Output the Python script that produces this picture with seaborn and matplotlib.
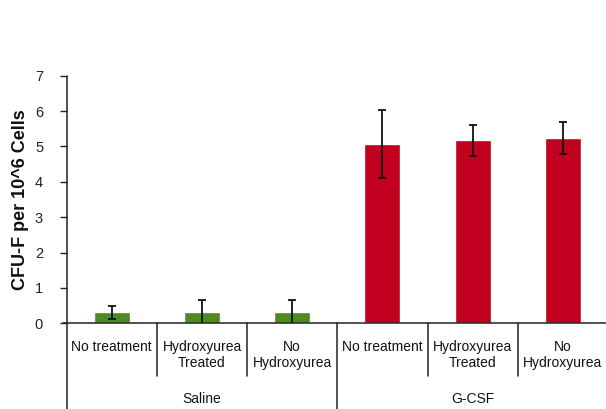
import matplotlib
matplotlib.use("Agg")
import matplotlib.pyplot as plt
import matplotlib.transforms as mtransforms
from matplotlib.lines import Line2D
import seaborn as sns
import pandas as pd

# Colony-forming units (fibroblast) per 10^6 cells, mean and error
groups = ["Saline", "Saline", "Saline", "G-CSF", "G-CSF", "G-CSF"]
treatments = ["No treatment", "Hydroxyurea\nTreated", "No\nHydroxyurea",
              "No treatment", "Hydroxyurea\nTreated", "No\nHydroxyurea"]
cfu_mean = [0.31, 0.31, 0.31, 5.07, 5.17, 5.24]
cfu_err = [0.18, 0.36, 0.36, 0.95, 0.45, 0.46]
group_names = ["Saline", "G-CSF"]
group_colors = {"Saline": "#4E8A22", "G-CSF": "#C0001E"}
y_ticks = [0, 1, 2, 3, 4, 5, 6, 7]

df = pd.DataFrame({
    "bar": [f"b{i}" for i in range(len(cfu_mean))],
    "group": groups,
    "treatment": treatments,
    "cfu": cfu_mean,
})

sns.set_style("white")
plt.rcParams["font.family"] = ["Liberation Sans", "DejaVu Sans"]

W, H = 606, 409
fig = plt.figure(figsize=(W / 100, H / 100), dpi=100)
left_px, right_px, bottom_px, top_px = 66.7, 606, 323.3, 75.7
ax = fig.add_axes([left_px / W, (H - bottom_px) / H,
                   (right_px - left_px) / W, (bottom_px - top_px) / H])

sns.barplot(data=df, x="bar", y="cfu", hue="group", palette=group_colors,
            dodge=False, width=0.4, errorbar=None, legend=False, ax=ax,
            saturation=1)
xs = list(range(len(cfu_mean)))
ax.errorbar(xs, cfu_mean, yerr=cfu_err, fmt="none", ecolor="#111111",
            elinewidth=1.3, capsize=3, capthick=1.3, zorder=5)

cat_w = 90.2
ax.set_xlim(-0.5, -0.5 + (right_px - left_px) / cat_w)
ax.set_ylim(0, 7)
ax.set_yticks(y_ticks)
ax.tick_params(axis="y", length=5, width=1, color="#222222", labelsize=10.5,
               pad=12, left=True, labelcolor="#222222")
ax.set_xticks(xs)
ax.set_xticklabels(treatments, fontsize=10, color="#111111")
ax.tick_params(axis="x", length=0, pad=12)
ax.set_xlabel("")
ax.set_ylabel("CFU-F per 10^6 Cells", fontsize=13, fontweight="bold",
              labelpad=4, color="#111111")

for s in ["top", "right", "left", "bottom"]:
    ax.spines[s].set_visible(False)

# axis frame and category dividers, drawn in figure pixels
def vline_px(x, y0, y1):
    fig.add_artist(Line2D([x / W, x / W], [1 - y0 / H, 1 - y1 / H],
                          transform=fig.transFigure, color="#222222", lw=1.1))

vline_px(left_px, top_px, H)
fig.add_artist(Line2D([left_px / W - 4 / W, 1], [1 - bottom_px / H] * 2,
                      transform=fig.transFigure, color="#222222", lw=1.1))
for k in [1, 2, 4, 5]:
    vline_px(left_px + k * cat_w, bottom_px, 376)
vline_px(left_px + 3 * cat_w, bottom_px, H)

trans = mtransforms.blended_transform_factory(ax.transData, fig.transFigure)
for i, g in enumerate(group_names):
    ax.text(1 + 3 * i, 1 - 399 / H, g, transform=trans, ha="center",
            va="center", fontsize=10, color="#111111")

fig.savefig("out.png", dpi=100, facecolor="white")
